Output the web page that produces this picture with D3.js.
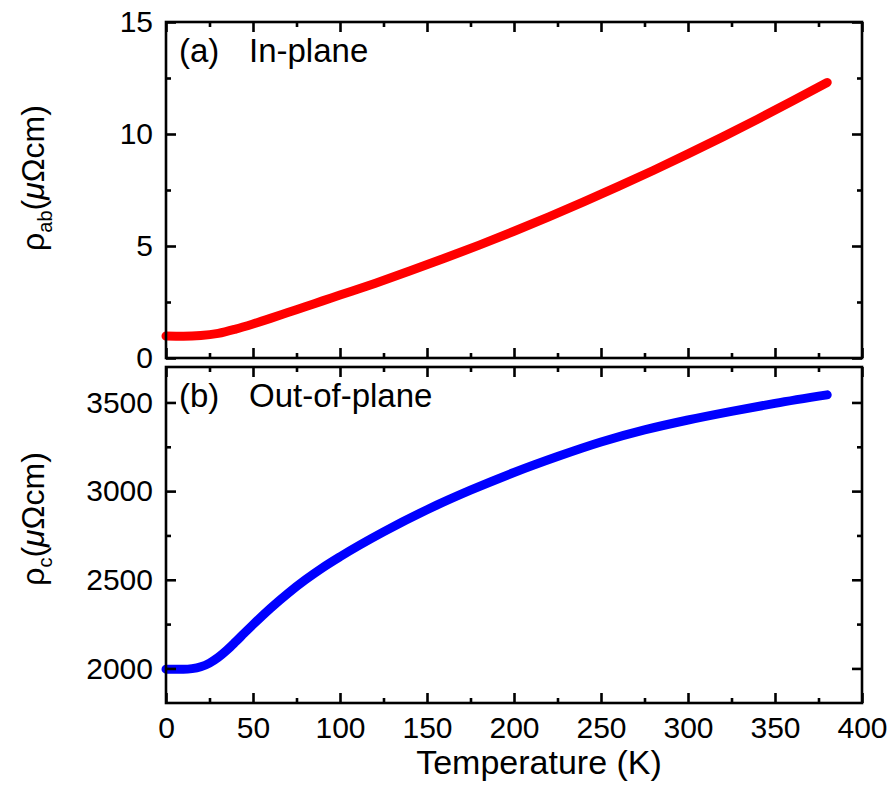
<!DOCTYPE html>
<html>
<head>
<meta charset="utf-8">
<script src="https://cdn.jsdelivr.net/npm/d3@7/dist/d3.min.js"></script>
<style>
  html, body { margin: 0; padding: 0; background: #fff; }
  svg { display: block; }
  text { font-family: "Liberation Sans", Arial, Helvetica, sans-serif; fill: #000; }
</style>
</head>
<body>
<svg id="chart" width="894" height="796"></svg>
<script>
// Temperature axis
const xDomain = [0, 400];
const xMajorTicks = [0, 50, 100, 150, 200, 250, 300, 350, 400];
const xMinorTicks = [25, 75, 125, 175, 225, 275, 325, 375];

// (a) in-plane resistivity, μΩcm
const inPlaneT   = [0, 10, 20, 30, 40, 50, 60, 70, 80, 90, 100, 120, 140, 160, 180, 200, 220, 240, 260, 280, 300, 320, 340, 360, 380];
const inPlaneRho = [0.98, 0.97, 1.00, 1.10, 1.29, 1.52, 1.77, 2.03, 2.29, 2.55, 2.81, 3.33, 3.88, 4.45, 5.04, 5.66, 6.30, 6.97, 7.66, 8.37, 9.11, 9.87, 10.66, 11.47, 12.30];
const inPlaneYDomain = [0, 15];
const inPlaneMajor = [0, 5, 10, 15];
const inPlaneMinor = [2.5, 7.5, 12.5];

// (b) out-of-plane resistivity, μΩcm
const outPlaneT   = [0, 10, 15, 20, 25, 30, 35, 40, 45, 50, 60, 70, 80, 90, 100, 125, 150, 175, 200, 225, 250, 275, 300, 325, 350, 380];
const outPlaneRho = [1996, 1996, 1999, 2009, 2030, 2062, 2103, 2150, 2199, 2247, 2339, 2423, 2499, 2568, 2630, 2770, 2895, 3005, 3105, 3195, 3277, 3345, 3401, 3450, 3495, 3543];
const outPlaneYDomain = [1805, 3700];
const outPlaneMajor = [2000, 2500, 3000, 3500];
const outPlaneMinor = [2250, 2750, 3250];

const svg = d3.select("#chart");
const left = 166, right = 862;
const panels = [
  { top: 22,  bottom: 358, T: inPlaneT,  rho: inPlaneRho,  yDomain: inPlaneYDomain,  major: inPlaneMajor,  minor: inPlaneMinor,
    color: "#ff0000", tag: "(a)", title: "In-plane", sub: "ab", labelY: 178, showX: false },
  { top: 367, bottom: 703, T: outPlaneT, rho: outPlaneRho, yDomain: outPlaneYDomain, major: outPlaneMajor, minor: outPlaneMinor,
    color: "#0000ff", tag: "(b)", title: "Out-of-plane", sub: "c", labelY: 519, showX: true }
];

const x = d3.scaleLinear().domain(xDomain).range([left, right]);
const majorLen = 10, minorLen = 5, axisW = 2.6;

function styleAxis(g) {
  g.selectAll(".domain").remove();
  g.selectAll(".tick line").attr("stroke", "#000").attr("stroke-width", axisW);
  g.selectAll(".tick text").style("font-size", "30px").attr("fill", "#000");
}

panels.forEach(p => {
  const y = d3.scaleLinear().domain(p.yDomain).range([p.bottom, p.top]);
  const g = svg.append("g");

  // measured curve
  const line = d3.line().x((d, i) => x(p.T[i])).y(d => y(d)).curve(d3.curveMonotoneX);
  g.append("path")
    .attr("d", line(p.rho))
    .attr("fill", "none")
    .attr("stroke", p.color)
    .attr("stroke-width", 9)
    .attr("stroke-linecap", "round")
    .attr("stroke-linejoin", "round");

  // bottom axis (labels only on lower panel)
  g.append("g").attr("transform", `translate(0,${p.bottom})`)
    .call(d3.axisBottom(x).tickValues(xMajorTicks).tickSize(-majorLen).tickPadding(14)
      .tickFormat(p.showX ? d3.format("d") : () => ""))
    .call(styleAxis);
  g.append("g").attr("transform", `translate(0,${p.bottom})`)
    .call(d3.axisBottom(x).tickValues(xMinorTicks).tickSize(-minorLen).tickFormat(() => ""))
    .call(styleAxis);
  // top axis (mirror)
  g.append("g").attr("transform", `translate(0,${p.top})`)
    .call(d3.axisTop(x).tickValues(xMajorTicks).tickSize(-majorLen).tickFormat(() => ""))
    .call(styleAxis);
  g.append("g").attr("transform", `translate(0,${p.top})`)
    .call(d3.axisTop(x).tickValues(xMinorTicks).tickSize(-minorLen).tickFormat(() => ""))
    .call(styleAxis);
  // left axis
  g.append("g").attr("transform", `translate(${left},0)`)
    .call(d3.axisLeft(y).tickValues(p.major).tickSize(-majorLen).tickPadding(13).tickFormat(d3.format("d")))
    .call(styleAxis);
  g.append("g").attr("transform", `translate(${left},0)`)
    .call(d3.axisLeft(y).tickValues(p.minor).tickSize(-minorLen).tickFormat(() => ""))
    .call(styleAxis);
  // right axis (mirror)
  g.append("g").attr("transform", `translate(${right},0)`)
    .call(d3.axisRight(y).tickValues(p.major).tickSize(-majorLen).tickFormat(() => ""))
    .call(styleAxis);
  g.append("g").attr("transform", `translate(${right},0)`)
    .call(d3.axisRight(y).tickValues(p.minor).tickSize(-minorLen).tickFormat(() => ""))
    .call(styleAxis);

  // frame
  g.append("rect")
    .attr("x", left).attr("y", p.top)
    .attr("width", right - left).attr("height", p.bottom - p.top)
    .attr("fill", "none").attr("stroke", "#000").attr("stroke-width", axisW);

  // panel tag and title
  g.append("text").attr("x", 179).attr("y", p.top + 40).style("font-size", "33px").text(p.tag);
  g.append("text").attr("x", 249).attr("y", p.top + 40).style("font-size", "33px").text(p.title);

  // y-axis label
  const lab = g.append("text")
    .attr("transform", `translate(44,${p.labelY}) rotate(-90)`)
    .attr("text-anchor", "middle")
    .style("font-size", "32px");
  lab.append("tspan").text("ρ");
  lab.append("tspan").attr("dy", 8).style("font-size", "20px").text(p.sub);
  lab.append("tspan").attr("dy", -8).text("(");
  lab.append("tspan").style("font-style", "italic").text("μ");
  lab.append("tspan").text("Ωcm)");
});

// x-axis title
svg.append("text")
  .attr("x", 539).attr("y", 774)
  .attr("text-anchor", "middle")
  .style("font-size", "34px")
  .text("Temperature (K)");
</script>
</body>
</html>
